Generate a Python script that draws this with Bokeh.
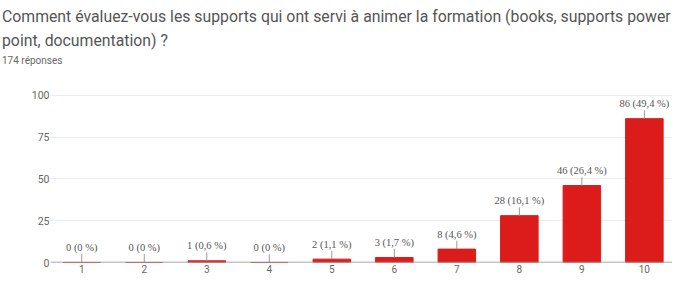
from bokeh.plotting import figure
from bokeh.layouts import column
from bokeh.models import ColumnDataSource, Range1d, LabelSet, FixedTicker, Div
from bokeh.embed import file_html
from bokeh.resources import INLINE

title_line1 = "Comment évaluez-vous les supports qui ont servi à animer la formation (books, supports power"
title_line2 = "point, documentation) ?"
subtitle = "174 réponses"

categories = [1, 2, 3, 4, 5, 6, 7, 8, 9, 10]
counts = [0, 0, 1, 0, 2, 3, 8, 28, 46, 86]
percents = ["0 %", "0 %", "0,6 %", "0 %", "1,1 %", "1,7 %", "4,6 %", "16,1 %", "26,4 %", "49,4 %"]
y_ticks = [0, 25, 50, 75, 100]

FONT = "Roboto"
W = 672
HEAD_H = 78
PX_PER_UNIT = 1.61
LEADER_PX = 8

# ---------- header (title block) ----------
head_html = (
    f'<div style="font-family:{FONT},sans-serif;margin:0;padding:5px 0 0 2px;white-space:nowrap;">'
    f'<div style="font-size:15.8px;line-height:24px;height:24px;margin:0;color:#555555;">{title_line1}</div>'
    f'<div style="font-size:15.8px;line-height:24px;height:24px;margin:0;color:#555555;">{title_line2}</div>'
    f'<div style="font-size:10px;line-height:10px;height:10px;margin:3px 0 0 0;color:#666666;">{subtitle}</div>'
    '</div>'
)
head = Div(text=head_html, width=W, height=HEAD_H, margin=(0, 0, 0, 0))

# ---------- chart ----------
labels = [f"{c} ({pc})" for c, pc in zip(counts, percents)]
src = ColumnDataSource(dict(
    x=categories, top=counts, label=labels,
    lead_top=[c + LEADER_PX / PX_PER_UNIT for c in counts],
))

p = figure(width=W, height=275 - HEAD_H, output_backend="svg", toolbar_location=None,
           x_range=Range1d(0.5, 10.45), y_range=Range1d(0, 110),
           min_border_left=50, min_border_right=0, min_border_top=0,
           min_border_bottom=0)
p.outline_line_color = None
p.background_fill_color = "white"
p.border_fill_color = "white"

p.vbar(x="x", top="top", width=0.6, bottom=0, source=src,
       fill_color="#db1c1a", line_color="#db1c1a")
p.segment(x0="x", y0="top", x1="x", y1="lead_top", source=src,
          line_color="#9a9a9a", line_width=1)
# baseline
p.segment(x0=[0.5], y0=[0], x1=[10.45], y1=[0], line_color="#8c8c8c", line_width=1.5)

p.add_layout(LabelSet(x="x", y="top", text="label", source=src,
                      y_offset=15, text_align="center", text_baseline="middle",
                      text_font=FONT, text_font_size="10.5px", text_color="#555555"))

p.xaxis.ticker = FixedTicker(ticks=categories)
p.yaxis.ticker = FixedTicker(ticks=y_ticks)
for ax in (p.xaxis[0], p.yaxis[0]):
    ax.axis_line_color = None
    ax.major_tick_line_color = None
    ax.minor_tick_line_color = None
    ax.major_tick_out = 0
    ax.major_tick_in = 0
    ax.minor_tick_out = 0
    ax.minor_tick_in = 0
    ax.axis_label_standoff = 0
    ax.major_label_text_font = FONT
    ax.major_label_text_color = "#666666"
    ax.major_label_text_line_height = 1.0
p.xaxis.major_label_text_font_size = "10px"
p.yaxis.major_label_text_font_size = "10.5px"
p.xaxis.major_label_standoff = 2
p.yaxis.major_label_standoff = 1

p.xgrid.grid_line_color = None
p.ygrid.grid_line_color = "#ececec"
p.ygrid.grid_line_width = 1

layout = column(head, p, spacing=0)
open("out.html", "w").write(file_html(layout, INLINE))
